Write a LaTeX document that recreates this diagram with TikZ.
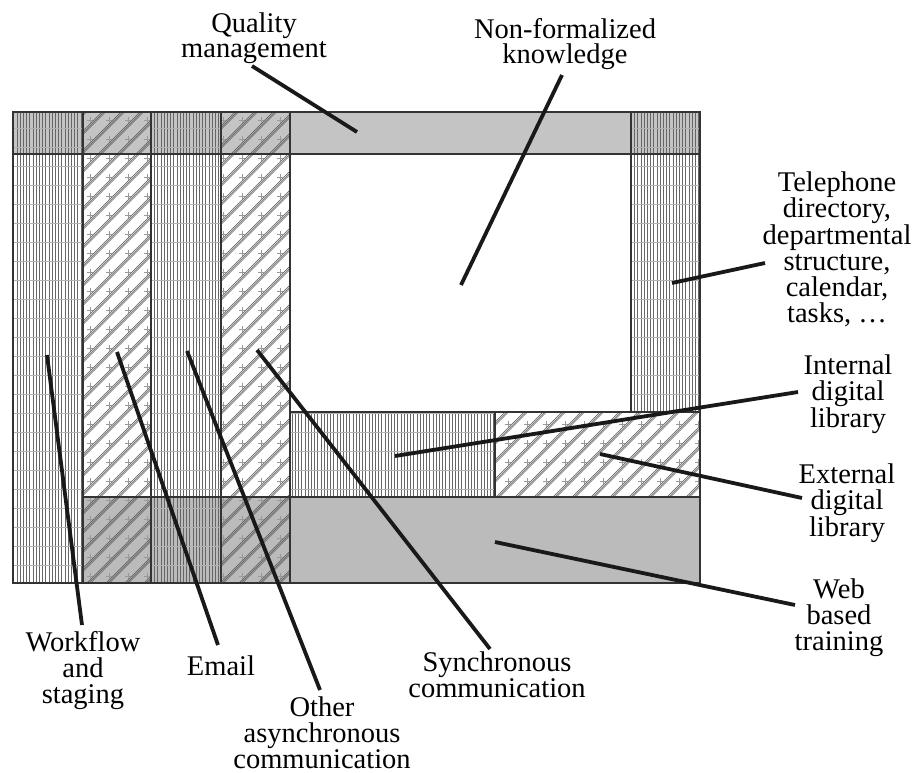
\documentclass[tikz,border=0pt]{standalone}
\usepackage{fontspec}
\setmainfont{Liberation Serif}
\definecolor{topgrey}{HTML}{C4C4C4}
\definecolor{botgrey}{HTML}{BBBBBB}
\tikzset{
  lbl/.style={font=\fontsize{28.5}{25.7}\selectfont, align=center, inner sep=0pt, anchor=base},
  callout/.style={line width=3.8pt, black!90},
  frame/.style={draw=black!80, line width=1.1pt},
  vline/.style={black!60, line width=0.65pt},
  hline/.style={black!30, line width=0.4pt},
  dline/.style={black!65, line width=0.5pt},
  crossl/.style={black!40, line width=0.45pt},
}
\begin{document}
\begin{tikzpicture}[x=1pt,y=-1pt]
\useasboundingbox (0,0) rectangle (919,773);
% grey bands
\fill[topgrey] (13,112) rectangle (700,154);
\fill[botgrey] (83,497) rectangle (700,583);
% vertical hatching
\begin{scope}
  \clip (13,112) rectangle (83,583) (151,112) rectangle (221,583)
        (631,112) rectangle (700,412) (290,412) rectangle (495,497);
  \foreach \x in {13.8,17.0,...,700} \draw[vline] (\x,112) -- (\x,583);
  \foreach \y in {128,147,...,583} \draw[hline] (13,\y) -- (700,\y);
\end{scope}
% diagonal hatching
\begin{scope}
  \clip (83,112) rectangle (151,583) (221,112) rectangle (290,583)
        (495,412) rectangle (700,497);
  \foreach \x in {-500,-481,...,700} {
    \draw[dline] (\x,600) -- ++(500,-500);
    \draw[dline] (\x+1.7,600) -- ++(500,-500);
    \draw[dline] (\x+3.4,600) -- ++(500,-500);
  }
  \foreach \x in {90,109,...,700} \foreach \y in {120,139,...,583}
    \draw[crossl] (\x-3,\y) -- (\x+3,\y) (\x,\y-3) -- (\x,\y+3);
\end{scope}
% frames
\draw[frame] (13,112) rectangle (700,583);
\draw[frame] (13,154) -- (700,154);
\foreach \x in {83,151,221,290} \draw[frame] (\x,112) -- (\x,583);
\draw[frame] (631,112) -- (631,412);
\draw[frame] (290,412) -- (700,412);
\draw[frame] (495,412) -- (495,497);
\draw[frame] (83,497) -- (700,497);
% labels (anchor = baseline of last line)
\node[lbl] (qm) at (254,58) {Quality\\management};
\node[lbl] (nf) at (565,64) {Non-formalized\\knowledge};
\node[lbl] (tel) at (837,322) {Telephone\\directory,\\departmental\\structure,\\calendar,\\tasks, \dots};
\node[lbl] (idl) at (848,427) {Internal\\digital\\library};
\node[lbl] (edl) at (847,536) {External\\digital\\library};
\node[lbl] (wbt) at (839,650) {Web\\based\\training};
\node[lbl] (wf) at (83,703) {Workflow\\and\\staging};
\node[lbl] (em) at (221,675) {Email};
\node[lbl] (oa) at (322,768) {Other\\asynchronous\\communication};
\node[lbl] (sc) at (497,697) {Synchronous\\communication};
% callout end points
\coordinate (qm-a) at (252,66);   \coordinate (qm-b) at (357,132);
\coordinate (nf-a) at (562,75);   \coordinate (nf-b) at (461,285);
\coordinate (tel-a) at (765,263); \coordinate (tel-b) at (672,283);
\coordinate (idl-a) at (798,392); \coordinate (idl-b) at (395,456);
\coordinate (edl-a) at (802,498); \coordinate (edl-b) at (600,454);
\coordinate (wbt-a) at (795,605); \coordinate (wbt-b) at (495,542);
\coordinate (wf-a) at (82,625);   \coordinate (wf-b) at (47,355);
\coordinate (em-a) at (218,645);  \coordinate (em-b) at (117,352);
\coordinate (oa-a) at (320,690);  \coordinate (oa-b) at (187,351);
\coordinate (sc-a) at (490,649);  \coordinate (sc-b) at (257,350);
\foreach \n in {qm,nf,tel,idl,edl,wbt,wf,em,oa,sc}
  \draw[callout] (\n-a) -- (\n-b);
\end{tikzpicture}
\end{document}
